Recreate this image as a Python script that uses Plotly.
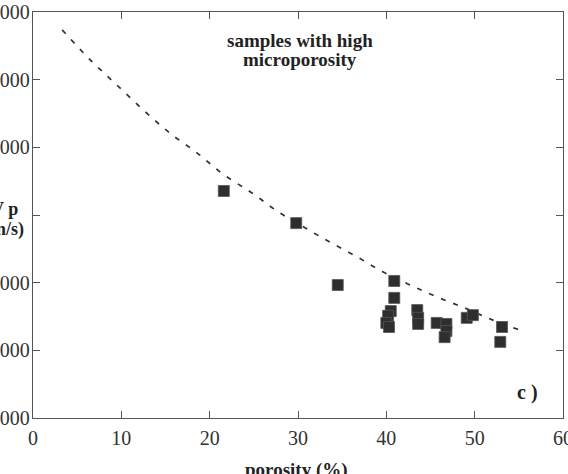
import plotly.graph_objects as go

# Samples with high microporosity
porosity = [21.6, 29.8, 34.5, 40.9, 40.9, 40.5, 40.2, 40.0, 40.3, 43.5, 43.6, 43.6,
            45.7, 46.8, 46.8, 46.6, 49.1, 49.8, 53.1, 52.9]
vp = [4355, 3880, 2965, 3025, 2775, 2580, 2510, 2405, 2345, 2595, 2480, 2390,
      2405, 2390, 2285, 2195, 2480, 2520, 2345, 2125]

# Dashed trend curve
curve_por = [3.3, 6.5, 9.5, 12.5, 15.5, 18.6, 21.5, 24.8, 27.6, 30.6, 33.6, 36.7,
             39.6, 42.7, 45.7, 48.9, 52.0, 55.1]
curve_vp = [6735, 6290, 5920, 5550, 5210, 4915, 4605, 4325, 4060, 3825, 3600, 3380,
            3160, 2965, 2790, 2625, 2450, 2300]

x_ticks = [0, 10, 20, 30, 40, 50, 60]
x_labels = ["0", "10", "20", "30", "40", "50", "60"]
y_ticks = [1000, 2000, 3000, 4000, 5000, 6000, 7000]
y_labels = ["1000", "2000", "3000", "", "5000", "6000", "7000"]

serif = "Liberation Serif"
axis_col = "#555555"

fig = go.Figure()
fig.add_trace(go.Scatter(
    x=curve_por, y=curve_vp, mode="lines",
    line=dict(color="#333333", width=1.7, dash="5px,8px", shape="spline"),
    hoverinfo="skip", showlegend=False))
fig.add_trace(go.Scatter(
    x=porosity, y=vp, mode="markers",
    marker=dict(symbol="square", size=11, color="#2e2e2e",
                line=dict(color="#555555", width=0.8)),
    showlegend=False))

axis_common = dict(
    showgrid=False, zeroline=False, showline=True, linecolor=axis_col, linewidth=1.3,
    mirror="ticks", ticks="inside", ticklen=7, tickcolor=axis_col, tickwidth=1.2,
    tickfont=dict(family=serif, size=20, color="#333333"),
    ticklabeloverflow="allow",
)

def ann(text, px, py, size, xanchor="center"):
    return dict(text=text, xref="paper", yref="paper",
                x=(px - 33) / 530, y=(418 - py) / 406,
                xanchor=xanchor, yanchor="middle", showarrow=False,
                font=dict(family=serif, size=size, color="#222222"))

fig.update_layout(
    width=568, height=474,
    margin=dict(l=33, r=5, t=12, b=56, autoexpand=False),
    paper_bgcolor="white", plot_bgcolor="white",
    xaxis=dict(range=[0, 60], tickvals=x_ticks, ticktext=x_labels,
               ticklabelstandoff=2, automargin=False, **axis_common),
    yaxis=dict(range=[1000, 7000], tickvals=y_ticks, ticktext=y_labels,
               ticklabelstandoff=-2, automargin=False, **axis_common),
    annotations=[
        ann("<b>samples with high</b>", 300, 40, 19),
        ann("<b>microporosity</b>", 300, 60, 19),
        ann("<b>c )</b>", 527, 392, 20),
        ann("<b>V p</b>", 20, 209, 18, "right"),
        ann("<b>(m/s)</b>", 26, 229, 18, "right"),
        ann("<b>porosity (%)</b>", 296, 470, 19),
    ],
)

fig.write_html("out.html")
